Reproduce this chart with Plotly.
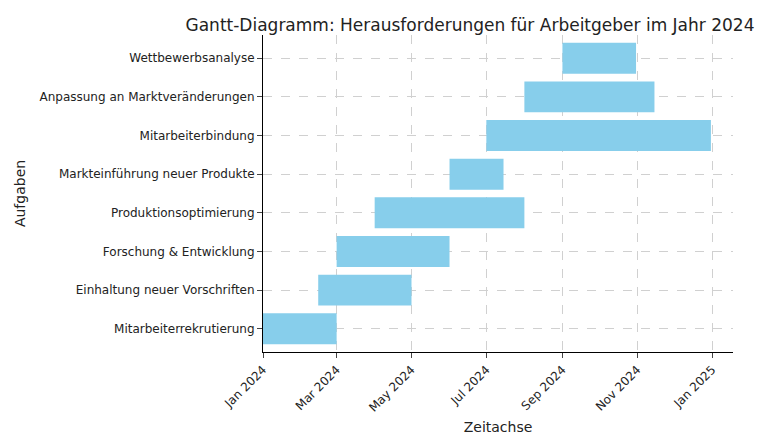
import plotly.express as px
import pandas as pd

tasks = ["Mitarbeiterrekrutierung", "Einhaltung neuer Vorschriften", "Forschung & Entwicklung",
         "Produktionsoptimierung", "Markteinführung neuer Produkte", "Mitarbeiterbindung",
         "Anpassung an Marktveränderungen", "Wettbewerbsanalyse"]
starts = ["2024-01-01", "2024-02-15", "2024-03-01", "2024-04-01", "2024-06-01", "2024-07-01", "2024-08-01", "2024-09-01"]
ends = ["2024-03-01", "2024-05-01", "2024-06-01", "2024-08-01", "2024-07-15", "2024-12-31", "2024-11-15", "2024-10-31"]
tick_vals = ["2024-01-01", "2024-03-01", "2024-05-01", "2024-07-01", "2024-09-01", "2024-11-01", "2025-01-01"]
tick_text = ["Jan 2024", "Mar 2024", "May 2024", "Jul 2024", "Sep 2024", "Nov 2024", "Jan 2025"]

df = pd.DataFrame({"Task": tasks, "Start": starts, "End": ends})
fig = px.timeline(df, x_start="Start", x_end="End", y="Task")
fig.update_traces(marker_color="#87CEEB", marker_line_width=0, width=0.8)
fig.update_layout(
    width=770, height=436, plot_bgcolor="white", paper_bgcolor="white",
    font=dict(family="DejaVu Sans", size=12, color="#222"),
    title=dict(text="Gantt-Diagramm: Herausforderungen für Arbeitgeber im Jahr 2024",
               x=0.6, xanchor="center", y=0.975, font=dict(size=17)),
    margin=dict(l=249, r=45, t=27, b=79), showlegend=False,
)
fig.update_xaxes(range=["2024-01-01", "2025-01-18"], tickvals=tick_vals, ticktext=tick_text,
                 tickangle=-45, showgrid=True, gridcolor="#d0d0d0", griddash="dash",
                 showline=True, linecolor="black", ticks="outside",
                 title=dict(text="Zeitachse", standoff=8))
fig.update_yaxes(categoryorder="array", categoryarray=tasks, range=[-0.6, 7.6],
                 showgrid=True, gridcolor="#d0d0d0", griddash="dash",
                 showline=True, linecolor="black", ticks="outside",
                 title=dict(text="Aufgaben", standoff=10))
fig.write_html("out.html")
